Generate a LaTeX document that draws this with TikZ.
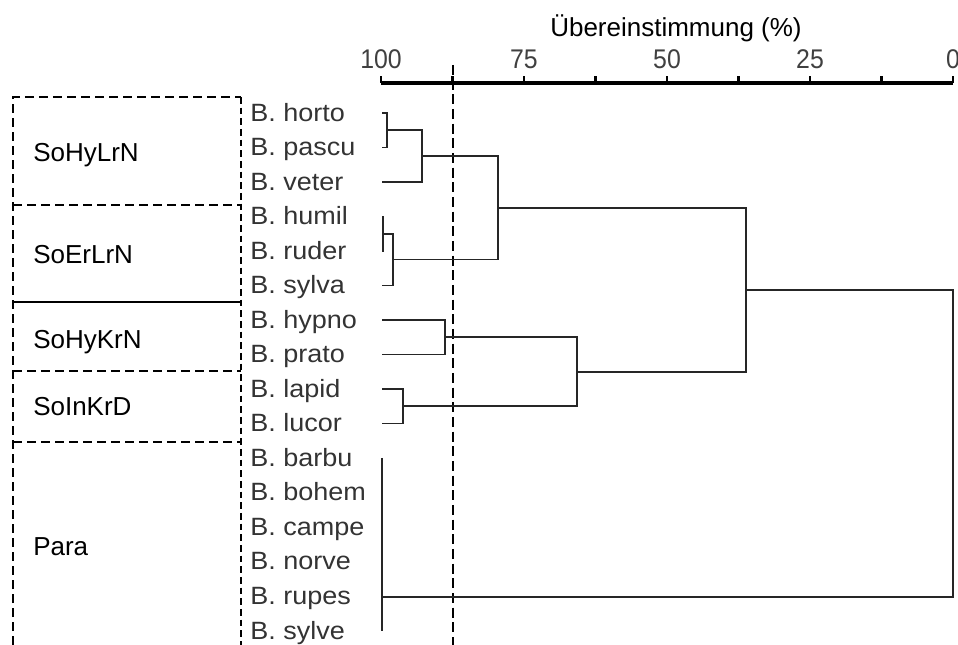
\documentclass[tikz,border=0pt]{standalone}
\usepackage{fontspec}
\setmainfont{Liberation Sans}
\newfontfamily\spfont[FakeStretch=1.08]{Liberation Sans}
\newfontfamily\digfont[FakeStretch=0.92]{Liberation Sans}
\begin{document}
\begin{tikzpicture}[x=0.75pt,y=-0.75pt,
  dendro/.style={line width=1.2pt, draw=black!85},
  axisline/.style={line width=2.3pt},
  tickline/.style={line width=2pt},
  cutline/.style={line width=1.9pt, dash pattern=on 7.5pt off 3.5pt},
  boxline/.style={line width=1.8pt, dash pattern=on 6.5pt off 4pt},
  boxlineR/.style={line width=1.6pt, dash pattern=on 5pt off 3pt},
  boxsolid/.style={line width=1.6pt},
  species/.style={anchor=base west, inner sep=0pt, font=\spfont\fontsize{18.75}{20}\selectfont, text=black!80},
  grouplabel/.style={anchor=base west, inner sep=0pt, font=\fontsize{19.5}{21}\selectfont},
  scalelabel/.style={anchor=base, inner sep=0pt, font=\digfont\fontsize{20.25}{22}\selectfont, text=black!75},
  titlelabel/.style={anchor=base, inner sep=0pt, font=\fontsize{19.5}{21}\selectfont},
]
\useasboundingbox (0,0) rectangle (958,645);

% title and scale
\node[titlelabel] (title) at (676,37) {Übereinstimmung (\%)};
\foreach \v/\nm in {100/a,75/b,50/c,25/d,0/e}
  \node[scalelabel] (sc\nm) at ({381+(100-\v)*5.72},69) {\v};
\draw[axisline] (381,83) -- (953,83);
\foreach \v in {0,12.5,...,100}
  \draw[tickline] ({381+(100-\v)*5.72},83) -- ++(0,-7);

% cut line
\draw[cutline] (453,65) -- (453,645);

% group boxes
\draw[boxline] (13,645) -- (13,97) -- (241,97);
\draw[boxlineR] (241,97) -- (241,645);
\draw[boxline] (13,205) -- (241,205);
\draw[boxsolid] (13,302) -- (241,302);
\draw[boxline] (13,371) -- (241,371);
\draw[boxline] (13,442) -- (241,442);

\node[grouplabel] (g1) at (33,162) {SoHyLrN};
\node[grouplabel] (g2) at (33,264) {SoErLrN};
\node[grouplabel] (g3) at (33,349) {SoHyKrN};
\node[grouplabel] (g4) at (33,416) {SoInKrD};
\node[grouplabel] (g5) at (33,556) {Para};

% species labels and leaf ends
\foreach \n [count=\i from 0] in {horto,pascu,veter,humil,ruder,sylva,hypno,prato,lapid,lucor,barbu,bohem,campe,norve,rupes,sylve}{
  \node[species] (lab\n) at (250,{113+34.5*\i+8.5}) {B. \n};
  \coordinate (\n) at (382,{113+34.5*\i});
}

% junctions
\coordinate (j1) at (387,130.25);
\coordinate (j2) at (422,156);
\coordinate (j3) at (383,233.75);
\coordinate (j4) at (393,259.6);
\coordinate (j5) at (498,207.8);
\coordinate (j6) at (445,337.25);
\coordinate (j7) at (403,406.25);
\coordinate (j8) at (577,371.75);
\coordinate (j9) at (746,289.8);
\coordinate (para) at (382,597);
\coordinate (j10) at (953,443);

\draw[dendro] (horto) -| (j1) |- (pascu);
\draw[dendro] (j1) -| (j2) |- (veter);
\draw[dendro] (humil) -| (j3) |- (ruder);
\draw[dendro] (j3) -| (j4) |- (sylva);
\draw[dendro] (j2) -| (j5) |- (j4);
\draw[dendro] (hypno) -| (j6) |- (prato);
\draw[dendro] (lapid) -| (j7) |- (lucor);
\draw[dendro] (j6) -| (j8) |- (j7);
\draw[dendro] (j5) -| (j9) |- (j8);
\draw[dendro] (barbu) -- (sylve);
\draw[dendro] (j9) -| (j10) |- (para);
\end{tikzpicture}
\end{document}
